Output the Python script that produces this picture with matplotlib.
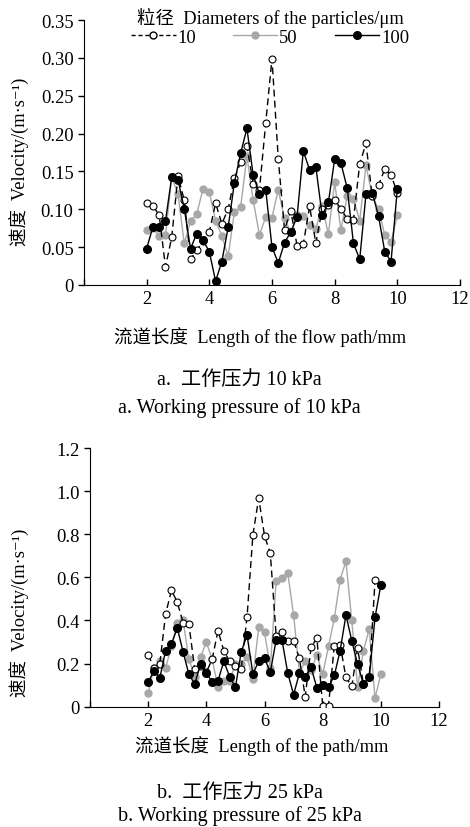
import numpy as np
import matplotlib
matplotlib.use("Agg")
import matplotlib.pyplot as plt
from matplotlib.lines import Line2D

plt.rcParams['font.family'] = ['Liberation Serif', 'DejaVu Serif', 'Noto Sans CJK SC']

# %% data
x = np.round(np.arange(2.0, 10.01, 0.2), 1)

# a. working pressure 10 kPa
v10_a = [0.108, 0.105, 0.092, 0.024, 0.063, 0.144, 0.112, 0.034, 0.046, 0.058,
         0.070, 0.108, 0.081, 0.100, 0.141, 0.162, 0.184, 0.134, 0.126, 0.214,
         0.299, 0.167, 0.073, 0.098, 0.052, 0.054, 0.104, 0.055, 0.100, 0.106,
         0.112, 0.101, 0.087, 0.086, 0.160, 0.187, 0.117, 0.132, 0.153, 0.145,
         0.122]
v50_a = [0.073, 0.075, 0.065, 0.066, 0.142, 0.120, 0.055, 0.084, 0.094, 0.127,
         0.123, 0.085, 0.065, 0.038, 0.096, 0.103, 0.170, 0.112, 0.066, 0.090,
         0.089, 0.126, 0.088, 0.070, 0.092, 0.091, 0.079, 0.074, 0.105, 0.067,
         0.136, 0.072, 0.118, 0.114, 0.085, 0.158, 0.118, 0.100, 0.066, 0.057,
         0.092]
v100_a = [0.048, 0.077, 0.077, 0.084, 0.143, 0.139, 0.101, 0.048, 0.068, 0.059,
          0.044, 0.005, 0.031, 0.076, 0.135, 0.174, 0.207, 0.145, 0.120, 0.126,
          0.050, 0.029, 0.056, 0.070, 0.090, 0.177, 0.152, 0.156, 0.092, 0.109,
          0.166, 0.161, 0.128, 0.055, 0.034, 0.120, 0.122, 0.091, 0.044, 0.031,
          0.127]

# b. working pressure 25 kPa
v10_b = [0.241, 0.180, 0.200, 0.430, 0.540, 0.485, 0.390, 0.383, 0.175, 0.190,
         0.160, 0.220, 0.353, 0.260, 0.210, 0.190, 0.175, 0.418, 0.796, 0.968,
         0.793, 0.711, 0.330, 0.345, 0.303, 0.306, 0.224, 0.046, 0.275, 0.318,
         0.005, 0.005, 0.283, 0.286, 0.136, 0.094, 0.272, 0.105, 0.136, 0.587,
         0.566]
v50_b = [0.062, 0.180, 0.210, 0.180, 0.280, 0.390, 0.400, 0.220, 0.140, 0.230,
         0.300, 0.220, 0.090, 0.120, 0.120, 0.200, 0.200, 0.230, 0.130, 0.370,
         0.345, 0.180, 0.585, 0.595, 0.620, 0.425, 0.160, 0.210, 0.170, 0.240,
         0.150, 0.280, 0.410, 0.590, 0.675, 0.400, 0.090, 0.260, 0.360, 0.040,
         0.150]
v100_b = [0.113, 0.167, 0.133, 0.260, 0.290, 0.365, 0.255, 0.150, 0.105, 0.198,
          0.155, 0.116, 0.120, 0.210, 0.140, 0.090, 0.255, 0.332, 0.152, 0.210,
          0.224, 0.160, 0.310, 0.310, 0.155, 0.056, 0.155, 0.137, 0.183, 0.088,
          0.100, 0.090, 0.145, 0.260, 0.425, 0.306, 0.198, 0.104, 0.136, 0.414,
          0.565]

xticks = [0, 2, 4, 6, 8, 10, 12]
xticklabels = ['', '2', '4', '6', '8', '10', '12']
yticks_a = [0, 0.05, 0.10, 0.15, 0.20, 0.25, 0.30, 0.35]
yticklabels_a = ['0', '0.05', '0.10', '0.15', '0.20', '0.25', '0.30', '0.35']
yticks_b = [0, 0.2, 0.4, 0.6, 0.8, 1.0, 1.2]
yticklabels_b = ['0', '0.2', '0.4', '0.6', '0.8', '1.0', '1.2']
sizes = ['10', '50', '100']

GRAY = '#a8a8a8'
FS = 13.3
CAP_FS = 14.5
YLABEL = '速度  Velocity/(m·s⁻¹)'


def draw(ax, v10, v50, v100):
    ax.plot(x, v50, '-', color=GRAY, lw=1.0, marker='o', ms=5,
            mfc=GRAY, mec=GRAY, zorder=2)
    ax.plot(x, v10, '--', color='black', lw=1.0, dashes=(5, 3), marker='o', ms=5,
            mfc='white', mec='black', mew=0.8, zorder=3)
    ax.plot(x, v100, '-', color='black', lw=1.0, marker='o', ms=5.5,
            mfc='black', mec='black', zorder=4)
    ax.spines['top'].set_visible(False)
    ax.spines['right'].set_visible(False)
    ax.set_xlim(0, 12)
    ax.set_xticks(xticks)
    ax.set_xticklabels(xticklabels, fontsize=FS)
    ax.tick_params(axis='x', direction='in', length=4, width=1)
    ax.tick_params(axis='y', direction='out', length=4, width=1, labelsize=FS)


fig = plt.figure(figsize=(4.7, 8.28), dpi=100)

ax1 = fig.add_axes([0.1787, 0.6546, 0.80, 0.320])
draw(ax1, v10_a, v50_a, v100_a)
ax1.set_ylim(0, 0.35)
ax1.set_yticks(yticks_a)
ax1.set_yticklabels(yticklabels_a)

ax2 = fig.add_axes([0.1915, 0.1453, 0.7426, 0.3124])
draw(ax2, v10_b, v50_b, v100_b)
ax2.set_ylim(0, 1.2)
ax2.set_yticks(yticks_b)
ax2.set_yticklabels(yticklabels_b)

# legend
handles = [
    Line2D([], [], ls='--', dashes=(3, 2), color='black', lw=1.0, marker='o', ms=5,
           mfc='white', mec='black'),
    Line2D([], [], ls='-', color=GRAY, lw=1.0, marker='o', ms=5, mfc=GRAY, mec=GRAY),
    Line2D([], [], ls='-', color='black', lw=1.0, marker='o', ms=5.5, mfc='black', mec='black'),
]
leg = fig.legend(handles, sizes, ncol=3, frameon=False, fontsize=FS,
                 title='粒径  Diameters of the particles/μm', title_fontsize=FS,
                 loc='upper center', bbox_to_anchor=(0.575, 1.006),
                 handlelength=2.4, handletextpad=0.1, columnspacing=2.0,
                 borderpad=0.2, labelspacing=0.1)

# axis labels and captions
fig.text(0.040, 0.805, YLABEL, rotation=90,
         ha='center', va='center', fontsize=FS)
fig.text(0.553, 0.593, '流道长度  Length of the flow path/mm',
         ha='center', va='center', fontsize=FS)
fig.text(0.51, 0.541, 'a.  工作压力 10 kPa', ha='center', va='center', fontsize=CAP_FS)
fig.text(0.51, 0.507, 'a. Working pressure of 10 kPa', ha='center', va='center', fontsize=CAP_FS)

fig.text(0.040, 0.26, YLABEL, rotation=90,
         ha='center', va='center', fontsize=FS)
fig.text(0.557, 0.099, '流道长度  Length of the path/mm',
         ha='center', va='center', fontsize=FS)
fig.text(0.51, 0.042, 'b.  工作压力 25 kPa', ha='center', va='center', fontsize=CAP_FS)
fig.text(0.51, 0.015, 'b. Working pressure of 25 kPa', ha='center', va='center', fontsize=CAP_FS)

fig.savefig('out.png', dpi=100)
